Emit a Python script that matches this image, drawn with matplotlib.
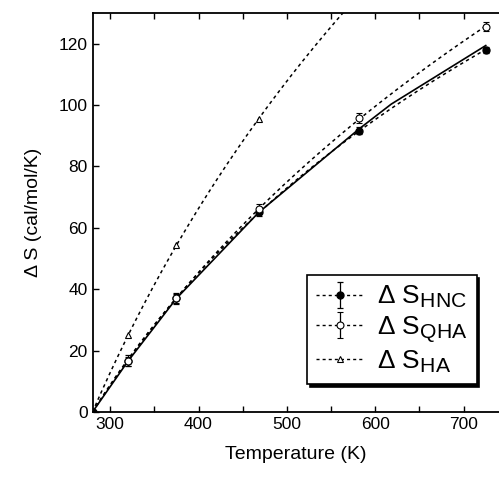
import numpy as np
import matplotlib
matplotlib.use("Agg")
import matplotlib.pyplot as plt
from matplotlib.ticker import MultipleLocator
from matplotlib.lines import Line2D
from matplotlib.container import ErrorbarContainer
import matplotlib._mathtext as _mt

_mt.SHRINK_FACTOR = 0.8

plt.rcParams['font.family'] = ['Liberation Sans', 'DejaVu Sans']
plt.rcParams['mathtext.fontset'] = 'custom'
plt.rcParams['mathtext.rm'] = 'Liberation Sans'
plt.rcParams['mathtext.it'] = 'Liberation Sans'

# ---- data ----
T0 = 280.0
T_hnc = [280, 320, 375, 468, 582, 725]
S_hnc = [0.0, 16.7, 37.0, 65.1, 91.7, 118.0]
E_hnc = [0.0, 1.8, 1.8, 1.4, 1.2, 1.0]

T_qha = [320, 375, 468, 582, 725]
S_qha = [16.5, 37.0, 66.2, 95.7, 125.6]
E_qha = [1.5, 1.5, 1.5, 1.6, 1.6]

T_ha = [280, 320, 375, 468]
S_ha = [0.0, 25.0, 54.3, 95.5]

# solid fitted line
T_fit = [280, 320, 375, 468, 582, 618, 725]
S_fit = [0.0, 16.5, 37.0, 65.0, 92.3, 100.3, 119.4]

labels = [r'$\Delta$ S$_{\rm HNC}$', r'$\Delta$ S$_{\rm QHA}$', r'$\Delta$ S$_{\rm HA}$']

fig = plt.figure(figsize=(4.99, 4.80), dpi=100)
ax = fig.add_axes([92.5/499, 1-412/480, (499-92.5)/499, (412-13)/480])


def log_fit(T, S, Tmax):
    # trend curve: S = a*ln(T/T0) + b*ln(T/T0)^2 fitted to the points
    x = np.log(np.asarray(T, float)/T0)
    A = np.vstack([x, x**2]).T
    coef, *_ = np.linalg.lstsq(A, np.asarray(S, float), rcond=None)
    tt = np.linspace(T0, Tmax, 200)
    xx = np.log(tt/T0)
    return tt, coef[0]*xx + coef[1]*xx**2


dash = (0, (2.2, 2.2))
k = 'black'

tt, ss = log_fit(T_hnc, S_hnc, 725)
ax.plot(tt, ss, color=k, lw=1.1, ls=dash)
tt, ss = log_fit([T0] + T_qha, [0.0] + S_qha, 725)
ax.plot(tt, ss, color=k, lw=1.1, ls=dash)
x = np.log(np.asarray(T_ha, float)/T0)
a = np.sum(x*np.asarray(S_ha))/np.sum(x*x)
tt = np.linspace(T0, 600, 200)
ax.plot(tt, a*np.log(tt/T0), color=k, lw=1.1, ls=dash)

ax.plot(T_fit, S_fit, color=k, lw=1.2, ls='-')

h1 = ax.errorbar(T_hnc, S_hnc, yerr=E_hnc, fmt='o', ms=5, mfc=k, mec=k,
                 ecolor=k, elinewidth=0.9, capsize=2.5, capthick=0.9)
h2 = ax.errorbar(T_qha, S_qha, yerr=E_qha, fmt='o', ms=5, mfc='white', mec=k, mew=0.8,
                 ecolor=k, elinewidth=0.9, capsize=2.5, capthick=0.9)
h3, = ax.plot(T_ha, S_ha, '^', ms=5, mfc='white', mec=k, mew=0.8, ls='none')

ax.set_xlim(280, 740)
ax.set_ylim(0, 130)
ax.xaxis.set_major_locator(MultipleLocator(100))
ax.xaxis.set_minor_locator(MultipleLocator(50))
ax.yaxis.set_major_locator(MultipleLocator(20))
ax.tick_params(axis='x', which='both', direction='in', top=True, length=4, width=1)
ax.tick_params(axis='y', which='both', direction='in', right=False, length=4, width=1)
ax.tick_params(labelsize=12.5)
ax.spines['right'].set_visible(False)
for s in ['left', 'top', 'bottom']:
    ax.spines[s].set_linewidth(1.3)

ax.set_xlabel('Temperature (K)', fontsize=14, labelpad=10)
ax.set_ylabel('Δ S (cal/mol/K)', fontsize=14, labelpad=12)

l1 = Line2D([], [], color=k, ls=dash, lw=1.0, marker='o', ms=5, mfc=k, mec=k)
l2 = Line2D([], [], color=k, ls=dash, lw=1.0, marker='o', ms=5, mfc='white', mec=k, mew=0.8)
l3 = Line2D([], [], color=k, ls=dash, lw=1.0, marker='^', ms=5, mfc='white', mec=k, mew=0.8)
e1 = ErrorbarContainer((l1, h1[1], [h1[2][0]]), has_yerr=True)
e2 = ErrorbarContainer((l2, h2[1], [h2[2][0]]), has_yerr=True)

leg = ax.legend([e1, e2, l3], labels,
                loc='upper left', bbox_to_anchor=(307/499, 1-275/480),
                bbox_transform=fig.transFigure, borderaxespad=0,
                fontsize=19, numpoints=1, handlelength=1.8, handletextpad=0.5,
                labelspacing=0.15, borderpad=0.35, fancybox=False,
                shadow={'color': 'black', 'alpha': 1.0}, framealpha=1)
leg.get_frame().set_edgecolor('black')
leg.get_frame().set_linewidth(1.2)

fig.savefig('out.png', dpi=100)
